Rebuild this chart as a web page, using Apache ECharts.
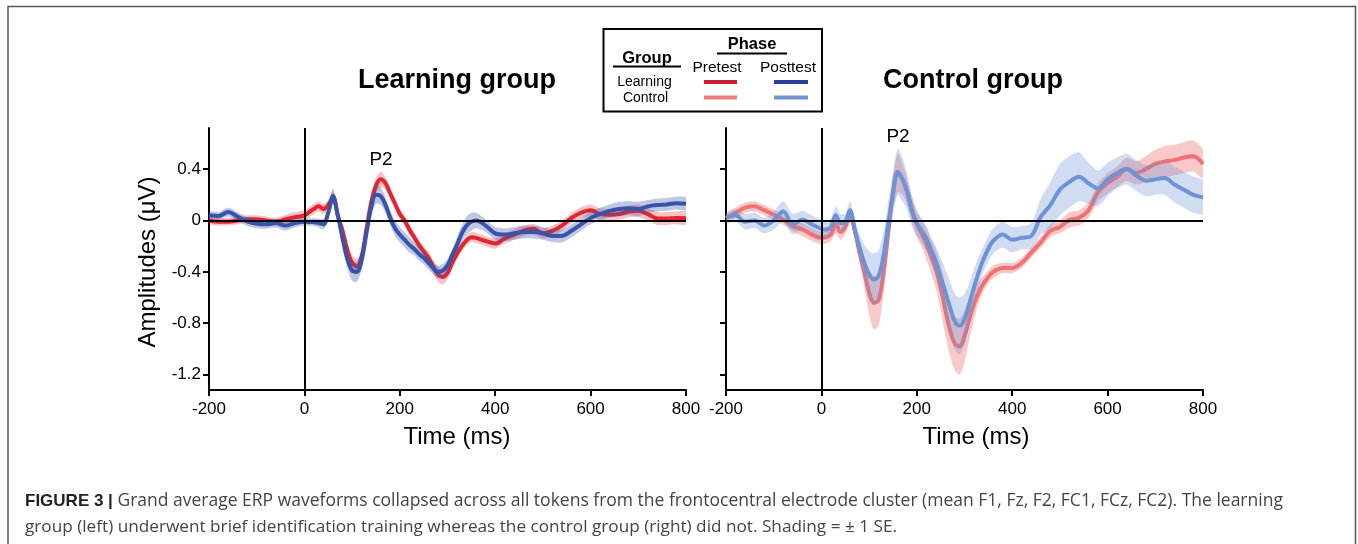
<!DOCTYPE html>
<html><head><meta charset="utf-8">
<script src="https://cdn.jsdelivr.net/npm/echarts@6/dist/echarts.min.js"></script>
<style>html,body{margin:0;padding:0;background:#fff}#c{width:1358px;height:544px}</style>
</head><body><div id="c"></div>
<script>
// time (ms)
const times = [-200,-180,-160,-140,-120,-100,-80,-60,-40,-20,
  0,10,20,30,40,50,60,70,80,90,
  100,110,120,130,140,150,160,170,180,190,
  200,210,220,230,240,250,260,270,280,290,
  300,310,320,330,340,350,360,
  380,400,420,440,460,480,500,520,540,560,580,600,620,640,660,680,700,720,740,760,780,800];

// Learning group – pretest
const learnPre = [0.00,-0.01,-0.01,0.00,0.01,0.01,0.00,-0.01,0.01,0.025,
  0.04,0.065,0.09,0.11,0.09,0.12,0.18,0.04,-0.08,-0.23,
  -0.33,-0.36,-0.28,-0.07,0.14,0.27,0.32,0.29,0.21,0.13,
  0.05,0.0,-0.07,-0.13,-0.19,-0.24,-0.29,-0.36,-0.42,-0.44,
  -0.41,-0.33,-0.26,-0.2,-0.155,-0.13,-0.135,
  -0.16,-0.18,-0.14,-0.11,-0.08,-0.065,-0.10,-0.08,-0.04,0.02,0.06,0.08,0.05,0.045,0.05,0.07,0.075,0.05,0.015,0.015,0.02,0.018];
const learnPreSE = [0.03,0.03,0.03,0.03,0.03,0.03,0.03,0.03,0.035,0.04,
  0.04,0.04,0.04,0.04,0.04,0.04,0.05,0.04,0.04,0.05,
  0.06,0.06,0.05,0.04,0.05,0.06,0.06,0.05,0.04,0.04,
  0.04,0.04,0.04,0.04,0.04,0.04,0.05,0.05,0.06,0.06,
  0.05,0.04,0.04,0.04,0.04,0.04,0.04,
  0.04,0.04,0.04,0.04,0.04,0.04,0.04,0.04,0.04,0.04,0.045,0.045,0.045,0.045,0.045,0.045,0.05,0.05,0.05,0.05,0.05,0.05];

// Learning group – posttest
const learnPost = [0.04,0.035,0.065,0.03,-0.008,-0.026,-0.03,-0.02,-0.04,-0.02,
  -0.01,-0.012,-0.013,-0.02,-0.03,0.06,0.19,0.04,-0.14,-0.30,
  -0.39,-0.40,-0.31,-0.10,0.10,0.20,0.19,0.12,0.02,-0.06,
  -0.11,-0.15,-0.19,-0.22,-0.26,-0.29,-0.33,-0.37,-0.40,-0.39,
  -0.35,-0.27,-0.19,-0.10,-0.04,-0.01,0.0,
  -0.04,-0.10,-0.11,-0.10,-0.09,-0.09,-0.10,-0.12,-0.12,-0.08,-0.03,0.02,0.05,0.075,0.09,0.095,0.09,0.11,0.12,0.125,0.135,0.13];
const learnPostSE = [0.03,0.03,0.035,0.035,0.035,0.035,0.035,0.035,0.04,0.035,
  0.03,0.03,0.03,0.035,0.04,0.05,0.06,0.05,0.06,0.07,
  0.08,0.08,0.07,0.06,0.06,0.07,0.07,0.06,0.06,0.06,
  0.06,0.06,0.06,0.05,0.05,0.05,0.05,0.05,0.05,0.05,
  0.05,0.05,0.06,0.06,0.07,0.07,0.06,
  0.05,0.05,0.05,0.05,0.05,0.05,0.05,0.05,0.05,0.05,0.05,0.05,0.05,0.05,0.055,0.055,0.055,0.05,0.05,0.05,0.05,0.05];

// Control group – pretest
const ctrlPre = [0.02,0.06,0.10,0.11,0.08,0.045,0.005,-0.045,-0.07,-0.11,
  -0.137,-0.13,-0.11,-0.03,-0.09,-0.05,0.04,-0.08,-0.25,-0.40,
  -0.56,-0.64,-0.62,-0.42,-0.10,0.21,0.37,0.32,0.22,0.08,
  -0.03,-0.10,-0.18,-0.28,-0.38,-0.52,-0.70,-0.86,-0.96,-0.98,
  -0.90,-0.77,-0.65,-0.56,-0.49,-0.44,-0.40,
  -0.37,-0.37,-0.33,-0.25,-0.17,-0.08,-0.05,0.005,0.02,0.08,0.22,0.29,0.34,0.40,0.37,0.40,0.44,0.46,0.47,0.49,0.50,0.44];
const ctrlPreSE = [0.03,0.04,0.04,0.04,0.04,0.04,0.04,0.04,0.05,0.05,
  0.05,0.05,0.05,0.07,0.06,0.06,0.06,0.06,0.08,0.12,
  0.17,0.21,0.2,0.15,0.12,0.12,0.15,0.12,0.1,0.1,
  0.1,0.1,0.12,0.13,0.15,0.18,0.2,0.2,0.21,0.22,
  0.2,0.16,0.12,0.08,0.06,0.05,0.05,
  0.04,0.04,0.04,0.04,0.045,0.05,0.05,0.06,0.06,0.06,0.07,0.08,0.08,0.09,0.09,0.1,0.11,0.12,0.12,0.12,0.12,0.11];

// Control group – posttest
const ctrlPost = [0.02,0.04,-0.01,0.0,-0.04,0.0,0.07,-0.03,0.005,-0.03,
  -0.065,-0.07,-0.05,0.04,-0.02,-0.01,0.08,-0.07,-0.21,-0.33,
  -0.42,-0.46,-0.43,-0.28,-0.03,0.21,0.38,0.32,0.22,0.07,
  -0.02,-0.08,-0.14,-0.23,-0.32,-0.44,-0.56,-0.68,-0.79,-0.82,
  -0.77,-0.65,-0.52,-0.40,-0.30,-0.22,-0.16,
  -0.11,-0.15,-0.135,-0.12,0.03,0.12,0.24,0.30,0.34,0.29,0.25,0.32,0.37,0.40,0.35,0.31,0.32,0.33,0.28,0.24,0.20,0.18];
const ctrlPostSE = [0.04,0.05,0.06,0.06,0.06,0.07,0.08,0.08,0.07,0.07,
  0.07,0.07,0.06,0.07,0.07,0.06,0.07,0.07,0.1,0.14,
  0.18,0.2,0.2,0.18,0.16,0.17,0.18,0.17,0.14,0.12,
  0.1,0.1,0.1,0.1,0.12,0.15,0.18,0.2,0.22,0.22,
  0.2,0.16,0.14,0.12,0.1,0.1,0.1,
  0.1,0.1,0.09,0.1,0.14,0.18,0.2,0.2,0.19,0.16,0.14,0.13,0.12,0.12,0.12,0.12,0.12,0.13,0.14,0.14,0.14,0.13];

const xTicks = [-200, 0, 200, 400, 600, 800];
const yTicks = [-1.2, -0.8, -0.4, 0, 0.4];

const FONT = '"Liberation Sans", Arial, Helvetica, sans-serif';
const C = {
  lPre: '#e3262d', lPost: '#3853a9', cPre: '#f07272', cPost: '#6d92d5',
  lPreBand: 'rgba(227,38,45,0.28)', lPostBand: 'rgba(56,83,169,0.32)',
  cPreBand: 'rgba(240,114,114,0.38)', cPostBand: 'rgba(109,146,213,0.32)'
};

function band(gi, mean, se, color) {
  return {type:'custom', xAxisIndex:gi, yAxisIndex:gi, silent:true, z:2, clip:true,
    data:[[0, 0]],
    renderItem: function (params, api) {
      const up = times.map((t,i) => api.coord([t, mean[i] + se[i]]));
      const lo = times.map((t,i) => api.coord([t, mean[i] - se[i]])).reverse();
      return {type:'polygon', shape:{points: up.concat(lo), smooth:0.25}, style:{fill:color}};
    }};
}
function line(gi, mean, color) {
  return {type:'line', xAxisIndex:gi, yAxisIndex:gi, symbol:'none', smooth:0.35, silent:true, z:3,
    data: times.map((t,i)=>[t, mean[i]]), lineStyle:{width:4, color:color}};
}
function refLines(gi) {
  return {type:'line', xAxisIndex:gi, yAxisIndex:gi, data:[], silent:true, z:5,
    markLine:{silent:true, symbol:['none','none'], label:{show:false},
      lineStyle:{color:'#000', width:2, type:'solid'}, animation:false,
      data:[{yAxis:0},{xAxis:0}]}};
}

const grids = [
  {left:209, top:128, width:477, height:262},
  {left:726, top:128, width:477, height:262}
];
function xAxis(gi) {
  return {type:'value', gridIndex:gi, min:-200, max:800, interval:200,
    axisLine:{onZero:false, lineStyle:{color:'#000', width:2}},
    axisTick:{inside:false, length:6, lineStyle:{color:'#000', width:2}, customValues:xTicks},
    axisLabel:{color:'#000', fontSize:17, fontFamily:FONT, margin:11, customValues:xTicks},
    splitLine:{show:false}};
}
function yAxis(gi, showLabel) {
  return {type:'value', gridIndex:gi, min:-1.32, max:0.72,
    axisLine:{show:true, onZero:false, lineStyle:{color:'#000', width:2}},
    axisTick:{show:true, inside:false, length:6, lineStyle:{color:'#000', width:2}, customValues:yTicks},
    axisLabel:{show:showLabel, color:'#000', fontSize:17, fontFamily:FONT, margin:8, customValues:yTicks,
      formatter: v => (Math.abs(v) < 1e-9 ? '0' : v.toFixed(1))},
    splitLine:{show:false}};
}

const series = [
  band(0, learnPre, learnPreSE, C.lPreBand), line(0, learnPre, C.lPre),
  band(0, learnPost, learnPostSE, C.lPostBand), line(0, learnPost, C.lPost),
  refLines(0),
  band(1, ctrlPre, ctrlPreSE, C.cPreBand), line(1, ctrlPre, C.cPre),
  band(1, ctrlPost, ctrlPostSE, C.cPostBand), line(1, ctrlPost, C.cPost),
  refLines(1)
];
// draw order: later series on top
series.forEach((s, i) => { s.z = 2 + i * 0.01; });
series[4].z = 10; series[9].z = 10;

function txt(x, y, text, size, weight, extra) {
  return Object.assign({type:'text', x:x, y:y, silent:true, z:20,
    style:{text:text, fill:'#000', font: (weight||'normal') + ' ' + size + 'px ' + FONT,
      textAlign:'center', textVerticalAlign:'middle', align:'center', verticalAlign:'middle'}}, extra||{});
}
function seg(x1, y1, x2, y2, color, w) {
  return {type:'line', silent:true, z:20, shape:{x1:x1,y1:y1,x2:x2,y2:y2}, style:{stroke:color, lineWidth:w}};
}

const CAP_FONT = '"Open Sans", "Liberation Sans", Arial, sans-serif';
const graphic = [
  {type:'rect', silent:true, z:1, shape:{x:8, y:6.5, width:1347.5, height:600},
    style:{fill:'none', stroke:'#555', lineWidth:1.5}},
  txt(457, 81, 'Learning group', 27, 'bold'),
  txt(973, 81, 'Control group', 27, 'bold'),
  txt(148, 262, 'Amplitudes (\u03bcV)', 24, 'normal', {rotation: Math.PI/2}),
  txt(457, 437, 'Time (ms)', 24),
  txt(976, 437, 'Time (ms)', 24),
  txt(381, 160, 'P2', 19),
  txt(898, 137, 'P2', 19),
  {type:'rect', silent:true, z:20, shape:{x:603.5, y:29, width:218.5, height:82.5},
    style:{fill:'#fff', stroke:'#000', lineWidth:2}},
  txt(752, 44.5, 'Phase', 16.5, 'bold'),
  seg(717, 53.5, 787, 53.5, '#000', 2),
  txt(647, 58, 'Group', 16.5, 'bold'),
  seg(613, 66.5, 681, 66.5, '#000', 2),
  txt(717, 67.5, 'Pretest', 15.5),
  txt(788, 67.5, 'Posttest', 15.5),
  txt(644.5, 82, 'Learning', 14),
  txt(645.5, 98.5, 'Control', 14),
  seg(704, 82, 737, 82, '#c8202e', 4),
  seg(774, 82, 808, 82, '#2a3d99', 4),
  seg(704, 97.5, 737, 97.5, '#f07c7c', 4),
  seg(774, 97.5, 808, 97.5, '#6f93d4', 4),
  {type:'text', x:25, y:501, silent:true, z:20,
    style:{text:'{b|FIGURE 3 |} Grand average ERP waveforms collapsed across all tokens from the frontocentral electrode cluster (mean F1, Fz, F2, FC1, FCz, FC2). The learning',
      fill:'#444', font:'normal 17.5px ' + CAP_FONT, textVerticalAlign:'middle', verticalAlign:'middle',
      rich:{b:{fontWeight:'bold', fontSize:17, fontFamily:FONT, fill:'#222', color:'#222'}}}},
  {type:'text', x:25, y:527, silent:true, z:20,
    style:{text:'group (left) underwent brief identification training whereas the control group (right) did not. Shading = \u00b1 1 SE.',
      fill:'#444', font:'normal 17.2px ' + CAP_FONT, textVerticalAlign:'middle', verticalAlign:'middle'}}
];

const chart = echarts.init(document.getElementById('c'), null, {renderer:'canvas'});
chart.setOption({
  animation:false,
  backgroundColor:'#fff',
  grid: grids,
  xAxis: [xAxis(0), xAxis(1)],
  yAxis: [yAxis(0, true), yAxis(1, false)],
  series: series,
  graphic: graphic
});
</script>
</body></html>
